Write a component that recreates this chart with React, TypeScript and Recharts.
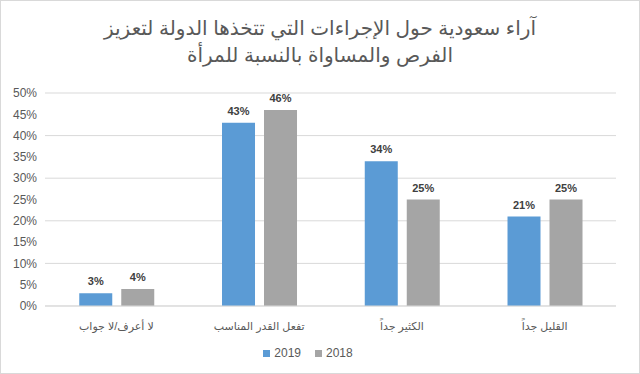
import React from "react";
import { BarChart, Bar, XAxis, YAxis, CartesianGrid, Legend, LabelList } from "recharts";

const categories = ["لا أعرف/لا جواب", "تفعل القدر المناسب", "الكثير جداً", "القليل جداً"];
const values2019 = [3, 43, 34, 21];
const values2018 = [4, 46, 25, 25];
const yTicks = [0, 5, 10, 15, 20, 25, 30, 35, 40, 45, 50];
const titleLines = ["آراء سعودية حول الإجراءات التي تتخذها الدولة لتعزيز", "الفرص والمساواة بالنسبة للمرأة"];
const seriesNames = ["2019", "2018"];
const seriesColors = ["#5B9BD5", "#A5A5A5"];

const data = categories.map((c, i) => ({ name: c, y2019: values2019[i], y2018: values2018[i] }));

const FONT = "'Liberation Sans', 'DejaVu Sans', sans-serif";

const LegendContent = () => (
  <div style={{ display: "flex", justifyContent: "center", gap: 14, fontSize: 12, fontFamily: FONT, color: "#595959" }}>
    {seriesNames.map((n, i) => (
      <span key={n} style={{ display: "inline-flex", alignItems: "center" }}>
        <span style={{ display: "inline-block", width: 7, height: 7, background: seriesColors[i], marginRight: 4 }} />
        {n}
      </span>
    ))}
  </div>
);

export default function App() {
  return (
    <div style={{ position: "absolute", left: 0, top: 0, width: 640, height: 374, background: "#fff", fontFamily: FONT }}>
      <div style={{ position: "absolute", left: 0, top: 0, width: 638, height: 372, border: "1px solid #D9D9D9" }} />
      <div style={{ position: "absolute", left: 0, top: 15, width: 640, textAlign: "center", direction: "rtl", color: "#595959", fontSize: 20, lineHeight: "27px" }}>
        {titleLines.map((l, i) => (<div key={i}>{l}</div>))}
      </div>
      <div style={{ position: "absolute", left: 0, top: 0 }}>
        <BarChart width={640} height={374} data={data} margin={{ top: 93, right: 24, bottom: 16, left: 0 }} barCategoryGap="24%" barGap={9}>
          <CartesianGrid vertical={false} stroke="#D9D9D9" />
          <XAxis dataKey="name" tickLine={false} axisLine={{ stroke: "#D9D9D9" }} tick={{ fill: "#595959", fontSize: 11, fontFamily: FONT }} tickMargin={10} height={30} />
          <YAxis domain={[0, 50]} ticks={yTicks} tickFormatter={(v) => `${v}%`} axisLine={false} tickLine={false} tick={{ fill: "#595959", fontSize: 12, fontFamily: FONT }} width={45} />
          <Legend verticalAlign="bottom" height={22} content={LegendContent} wrapperStyle={{ bottom: 6 }} />
          <Bar dataKey="y2019" name="2019" fill={seriesColors[0]} isAnimationActive={false}>
            <LabelList dataKey="y2019" position="top" offset={8} formatter={(v) => `${v}%`} style={{ fill: "#404040", fontSize: 11, fontWeight: "bold", fontFamily: FONT }} />
          </Bar>
          <Bar dataKey="y2018" name="2018" fill={seriesColors[1]} isAnimationActive={false}>
            <LabelList dataKey="y2018" position="top" offset={8} formatter={(v) => `${v}%`} style={{ fill: "#404040", fontSize: 11, fontWeight: "bold", fontFamily: FONT }} />
          </Bar>
        </BarChart>
      </div>
    </div>
  );
}
